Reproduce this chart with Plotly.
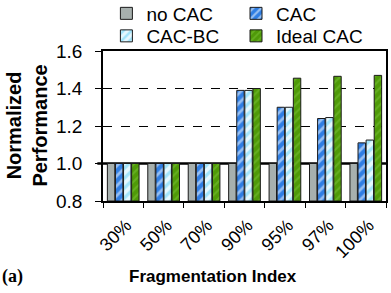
import plotly.graph_objects as go

categories = ["30%", "50%", "70%", "90%", "95%", "97%", "100%"]
no_cac = [1.0, 1.0, 1.0, 1.0, 1.0, 1.0, 1.0]
cac = [1.0, 1.0, 1.0, 1.39, 1.30, 1.24, 1.11]
cac_bc = [1.0, 1.0, 1.0, 1.39, 1.30, 1.245, 1.125]
ideal_cac = [1.0, 1.0, 1.0, 1.40, 1.455, 1.465, 1.47]
y_ticks = [0.8, 1.0, 1.2, 1.4, 1.6]

FONT = "Liberation Sans, Arial, sans-serif"
base = 0.8

fig = go.Figure()
series = [
    ("no CAC", no_cac, dict(color="#a7b0ae"), "legend"),
    ("CAC", cac, dict(color="#2f7ee3", pattern=dict(shape="/", fgcolor="white", bgcolor="#2f7ee3", size=7, solidity=0.4)), "legend2"),
    ("CAC-BC", cac_bc, dict(color="#5cd0f7", pattern=dict(shape="/", fgcolor="#5cd0f7", bgcolor="#e6f8ff", size=7, solidity=0.45)), "legend3"),
    ("Ideal CAC", ideal_cac, dict(color="#4f9a08", pattern=dict(shape="/", fgcolor="#7cc43a", bgcolor="#4f9a08", size=6, solidity=0.35)), "legend4"),
]
for name, vals, marker, lg in series:
    marker = dict(marker)
    marker["line"] = dict(color="#1a1a1a", width=1)
    fig.add_trace(go.Bar(
        name=name, x=categories, y=[v - base for v in vals], base=base,
        marker=marker, legend=lg,
    ))

fig.add_shape(type="line", xref="paper", yref="y", x0=-0.02, x1=1, y0=1.0, y1=1.0,
              line=dict(color="black", width=2.5), layer="below")

leg_common = dict(orientation="h", xanchor="left", yanchor="middle",
                  font=dict(size=19), itemwidth=30, bgcolor="rgba(0,0,0,0)")

fig.update_layout(
    width=391, height=293,
    margin=dict(l=103, r=5, t=51, b=92, autoexpand=False),
    paper_bgcolor="white", plot_bgcolor="white",
    barmode="group", bargap=0.2, bargroupgap=0.08,
    font=dict(family=FONT, size=16, color="black"),
    showlegend=True,
    legend=dict(x=0.012, y=1.25, **leg_common),
    legend2=dict(x=0.47, y=1.25, **leg_common),
    legend3=dict(x=0.012, y=1.10, **leg_common),
    legend4=dict(x=0.47, y=1.10, **leg_common),
    xaxis=dict(type="category", tickson="boundaries", ticks="outside", ticklen=5,
               tickcolor="black", tickangle=-45, showline=True, linecolor="black",
               linewidth=1.5, mirror=True, showgrid=False, tickfont=dict(size=18),
               ticklabelshift=3, ticklabelstandoff=5),
    yaxis=dict(range=[0.8, 1.6], tickvals=y_ticks, tickformat=".1f", ticks="outside",
               ticklen=6, tickcolor="black", showline=True, linecolor="black", linewidth=1.5,
               mirror=True, showgrid=True, gridcolor="black", griddash="dash", gridwidth=1,
               zeroline=False, tickfont=dict(size=19), ticklabelstandoff=9),
)

fig.add_annotation(text="<b>Normalized<br>Performance</b>", xref="paper", yref="paper",
                   x=-0.27, y=0.5, xanchor="center", yanchor="middle", showarrow=False,
                   textangle=-90, font=dict(size=20, family=FONT))
fig.add_annotation(text="<b>Fragmentation Index</b>", xref="paper", yref="paper",
                   x=0.39, y=-0.5, xanchor="center", yanchor="middle", showarrow=False,
                   font=dict(size=17, family=FONT))
fig.add_annotation(text="<b>(a)</b>", xref="paper", yref="paper",
                   x=-0.365, y=-0.5, xanchor="left", yanchor="middle", showarrow=False,
                   font=dict(size=18, family="Liberation Serif, Times New Roman, serif"))

fig.write_html("out.html", config={"displayModeBar": False},
               post_script="document.body.style.margin='0';")
